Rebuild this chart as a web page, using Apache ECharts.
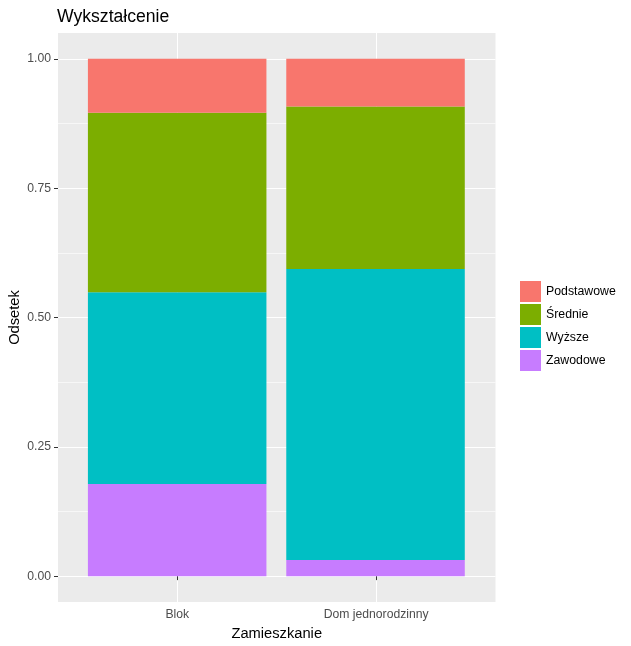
<!DOCTYPE html>
<html>
<head>
<meta charset="utf-8">
<script src="https://cdn.jsdelivr.net/npm/echarts@6/dist/echarts.min.js"></script>
<style>
html,body{margin:0;padding:0;background:#fff;}
#c{width:631px;height:646px;}
</style>
</head>
<body>
<div id="c"></div>
<script>
const categories = ['Blok', 'Dom jednorodzinny'];
const seriesNames = ['Podstawowe', 'Średnie', 'Wyższe', 'Zawodowe'];
const podstawowe = [0.104, 0.092];
const srednie = [0.347, 0.314];
const wyzsze = [0.371, 0.563];
const zawodowe = [0.178, 0.031];
const yTicks = [0, 0.25, 0.5, 0.75, 1];
const yMinorTicks = [0.125, 0.375, 0.625, 0.875];

const colors = {
  'Podstawowe': '#F8766D',
  'Średnie': '#7CAE00',
  'Wyższe': '#00BFC4',
  'Zawodowe': '#C77CFF'
};
const FONT = '"Liberation Sans", Arial, sans-serif';

// stacked bottom-to-top (ggplot puts first level on top)
const stackOrder = [
  ['Zawodowe', zawodowe],
  ['Wyższe', wyzsze],
  ['Średnie', srednie],
  ['Podstawowe', podstawowe]
];
const catPositions = categories.map((c, i) => i + 1);

const chart = echarts.init(document.getElementById('c'), null, {renderer: 'canvas'});
chart.setOption({
  animation: false,
  backgroundColor: '#ffffff',
  textStyle: {fontFamily: FONT},
  title: {
    text: 'Wykształcenie',
    left: 57, top: 8, padding: 0,
    textStyle: {fontFamily: FONT, fontSize: 17.6, fontWeight: 'normal', color: '#000'}
  },
  legend: {
    data: seriesNames,
    orient: 'vertical',
    left: 520, top: 281, padding: 0,
    itemWidth: 21, itemHeight: 21, itemGap: 2,
    icon: 'rect',
    textStyle: {fontFamily: FONT, fontSize: 12.3, color: '#000', padding: [4, 0, 0, 0]}
  },
  grid: [{
    left: 58, right: 135.5, top: 33, bottom: 44,
    show: true, backgroundColor: '#EBEBEB', borderWidth: 0,
    containLabel: false, outerBoundsMode: 'none'
  }, {
    left: 78, right: 156.3, top: 33, bottom: 44,
    show: false, containLabel: false, outerBoundsMode: 'none'
  }],
  xAxis: [{
    gridIndex: 0,
    type: 'value',
    min: 0.4, max: 2.6,
    name: 'Zamieszkanie',
    nameLocation: 'middle',
    nameGap: 24,
    nameMoveOverlap: false,
    nameTextStyle: {fontFamily: FONT, fontSize: 14.7, color: '#000'},
    axisLine: {show: false},
    axisTick: {show: true, length: 4, customValues: catPositions, lineStyle: {color: '#333333', width: 1}},
    axisLabel: {
      customValues: catPositions,
      margin: 7,
      fontFamily: FONT, fontSize: 12.2, color: '#4D4D4D',
      formatter: v => categories[Math.round(v) - 1] || ''
    },
    splitLine: {show: true, lineStyle: {color: '#ffffff', width: 1}}
  }, {
    gridIndex: 1,
    type: 'category',
    data: categories,
    show: false
  }],
  yAxis: [{
    gridIndex: 0,
    type: 'value',
    min: -0.05, max: 1.05,
    name: 'Odsetek',
    nameLocation: 'middle',
    nameRotate: 90,
    nameGap: 36,
    nameMoveOverlap: false,
    nameTextStyle: {fontFamily: FONT, fontSize: 14.7, color: '#000'},
    axisLine: {show: false},
    axisTick: {show: true, length: 4, customValues: yTicks, lineStyle: {color: '#333333', width: 1}},
    axisLabel: {
      customValues: yTicks,
      margin: 7,
      fontFamily: FONT, fontSize: 12.2, color: '#4D4D4D',
      formatter: v => v.toFixed(2)
    },
    splitLine: {show: true, lineStyle: {color: '#ffffff', width: 1.1}}
  }, {
    gridIndex: 0,
    type: 'value',
    min: -0.05, max: 1.05,
    position: 'left',
    axisLine: {show: false},
    axisTick: {show: false, customValues: yMinorTicks},
    axisLabel: {show: false, customValues: yMinorTicks},
    splitLine: {show: true, lineStyle: {color: '#ffffff', width: 0.6}}
  }, {
    gridIndex: 1,
    type: 'value',
    min: -0.05, max: 1.05,
    show: false
  }],
  series: stackOrder.map(([name, vals]) => ({
    name: name,
    type: 'bar',
    stack: 'total',
    xAxisIndex: 1,
    yAxisIndex: 2,
    barWidth: '90%',
    itemStyle: {color: colors[name]},
    data: vals
  }))
});
</script>
</body>
</html>
